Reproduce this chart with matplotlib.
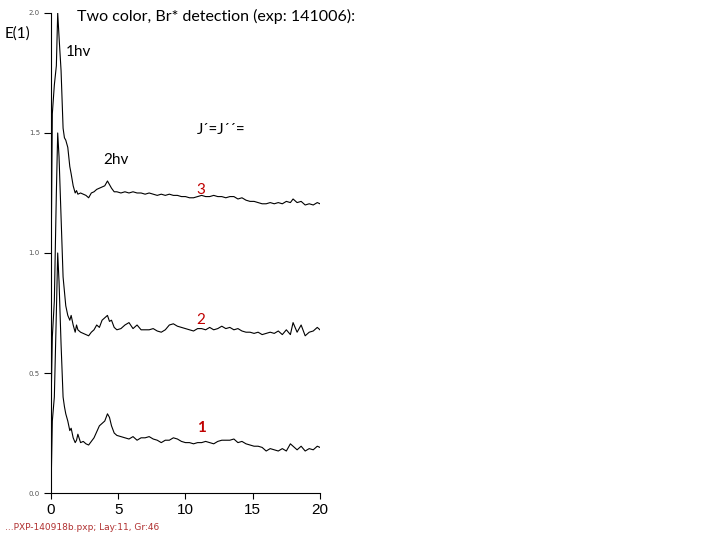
import matplotlib.pyplot as plt

# delay axis (shared by all three traces)
x = [0, 0.1, 0.25, 0.4, 0.5, 0.6, 0.75, 0.9, 1.0, 1.1,
     1.25, 1.4, 1.5, 1.65, 1.8, 1.9, 2.0, 2.2, 2.4, 2.6,
     2.8, 3.0, 3.2, 3.4, 3.6, 3.8, 4.0, 4.2, 4.35, 4.5,
     4.7, 4.9, 5.2, 5.5, 5.8, 6.1, 6.4, 6.7, 7.0, 7.3,
     7.6, 7.9, 8.2, 8.5, 8.8, 9.1, 9.4, 9.7, 10.0, 10.3,
     10.6, 10.9, 11.2, 11.5, 11.8, 12.1, 12.4, 12.7, 13.0, 13.3,
     13.6, 13.9, 14.2, 14.5, 14.8, 15.1, 15.4, 15.7, 16.0, 16.3,
     16.6, 16.9, 17.2, 17.5, 17.8, 18.0, 18.3, 18.6, 18.9, 19.2,
     19.5, 19.8, 20.0]

j1 = [0.0, 0.30, 0.40, 0.75, 1.00, 0.88, 0.62, 0.40, 0.36, 0.33,
      0.30, 0.26, 0.27, 0.23, 0.21, 0.22, 0.245, 0.21, 0.215, 0.205,
      0.20, 0.215, 0.23, 0.255, 0.28, 0.29, 0.30, 0.33, 0.315, 0.28,
      0.25, 0.24, 0.235, 0.23, 0.225, 0.235, 0.22, 0.23, 0.23, 0.235,
      0.225, 0.22, 0.21, 0.22, 0.22, 0.23, 0.225, 0.215, 0.21, 0.21,
      0.205, 0.21, 0.21, 0.215, 0.21, 0.205, 0.215, 0.22, 0.22, 0.22,
      0.225, 0.21, 0.215, 0.205, 0.20, 0.195, 0.195, 0.19, 0.175, 0.185,
      0.18, 0.175, 0.185, 0.175, 0.205, 0.195, 0.18, 0.195, 0.175, 0.185,
      0.18, 0.195, 0.19]

j2 = [0.35, 0.65, 0.80, 1.25, 1.50, 1.40, 1.15, 0.90, 0.84, 0.78,
      0.74, 0.72, 0.74, 0.70, 0.67, 0.70, 0.68, 0.67, 0.665, 0.66,
      0.655, 0.67, 0.68, 0.70, 0.69, 0.72, 0.73, 0.74, 0.715, 0.72,
      0.69, 0.68, 0.685, 0.70, 0.71, 0.685, 0.70, 0.68, 0.68, 0.68,
      0.685, 0.675, 0.67, 0.68, 0.70, 0.705, 0.695, 0.69, 0.685, 0.68,
      0.675, 0.685, 0.685, 0.68, 0.69, 0.68, 0.685, 0.695, 0.685, 0.69,
      0.68, 0.685, 0.675, 0.67, 0.67, 0.665, 0.67, 0.66, 0.665, 0.67,
      0.665, 0.675, 0.66, 0.68, 0.66, 0.71, 0.67, 0.70, 0.655, 0.67,
      0.675, 0.69, 0.68]

j3 = [0.90, 1.58, 1.70, 1.78, 2.00, 1.90, 1.76, 1.52, 1.48, 1.47,
      1.44, 1.36, 1.33, 1.28, 1.25, 1.26, 1.245, 1.25, 1.245, 1.24,
      1.23, 1.25, 1.255, 1.265, 1.27, 1.275, 1.28, 1.30, 1.285, 1.27,
      1.255, 1.255, 1.25, 1.255, 1.25, 1.255, 1.25, 1.25, 1.245, 1.25,
      1.245, 1.24, 1.245, 1.24, 1.245, 1.24, 1.24, 1.235, 1.235, 1.23,
      1.23, 1.235, 1.24, 1.235, 1.235, 1.24, 1.235, 1.235, 1.23, 1.235,
      1.235, 1.225, 1.23, 1.22, 1.215, 1.215, 1.21, 1.205, 1.205, 1.21,
      1.205, 1.21, 1.205, 1.215, 1.21, 1.225, 1.21, 1.215, 1.20, 1.205,
      1.20, 1.21, 1.205]

plt.rcParams['font.family'] = ['Lato', 'DejaVu Sans']

fig = plt.figure(figsize=(7.2, 5.4), dpi=100)
ax = fig.add_axes([0.0708, 0.087, 0.3736, 0.889])

for y in (j1, j2, j3):
    ax.plot(x, y, color="black", lw=0.8)

ax.set_xlim(0, 20)
ax.set_ylim(0, 2.0)
ax.set_xticks([0, 5, 10, 15, 20])
ax.set_yticks([0.0, 0.5, 1.0, 1.5, 2.0])
ax.set_yticklabels(["0.0", "0.5", "1.0", "1.5", "2.0"], fontsize=5,
                   color="#555555", family="DejaVu Sans")
ax.tick_params(axis="x", labelsize=11, length=4, width=0.8)
ax.tick_params(axis="y", length=5, width=0.8, pad=3)
for lbl in ax.get_xticklabels():
    lbl.set_family("Liberation Sans")
ax.spines["top"].set_visible(False)
ax.spines["right"].set_visible(False)

fig.text(5 / 720, 1 - 34 / 540, "E(1)", fontsize=11, va="center", ha="left")
fig.text(77 / 720, 1 - 16 / 540, "Two color, Br* detection (exp: 141006):",
         fontsize=11.5, va="center", ha="left")
fig.text(66 / 720, 1 - 52 / 540, "1hv", fontsize=11, va="center", ha="left")
fig.text(103 / 720, 1 - 160 / 540, "2hv", fontsize=11, va="center", ha="left")
fig.text(197 / 720, 1 - 130 / 540, "J´=J´´=", fontsize=11, va="center", ha="left")

labels = ["1", "2", "3"]
label_y = [428, 320, 190]
label_w = ["bold", "normal", "normal"]
for lab, py, w in zip(labels, label_y, label_w):
    fig.text(201 / 720, 1 - py / 540, lab, fontsize=11, color="#c00000",
             va="center", ha="center", fontweight=w)

fig.text(5 / 720, 1 - 528 / 540, "...PXP-140918b.pxp; Lay:11, Gr:46",
         fontsize=6.5, color="#b03030", va="center", ha="left",
         family="Liberation Sans Narrow")

fig.savefig("out.png", dpi=100)
